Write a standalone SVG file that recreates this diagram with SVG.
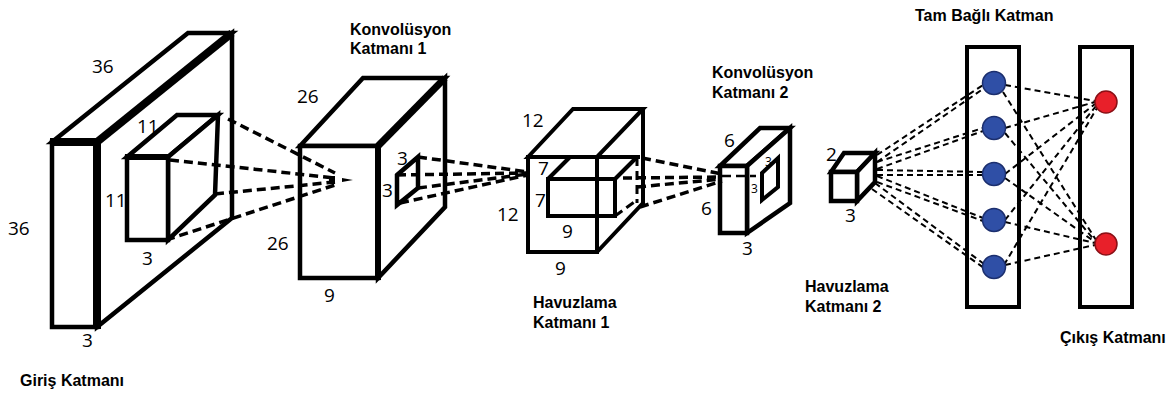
<svg xmlns="http://www.w3.org/2000/svg" width="1175" height="394" viewBox="0 0 1175 394">
<style>
.box{fill:#fff;stroke:#000;stroke-width:4.5;stroke-linejoin:miter}
.ln{fill:none;stroke:#000;stroke-width:4.5}
.thick{fill:none;stroke:#000;stroke-width:8}
.dash{fill:none;stroke:#000;stroke-width:3.5;stroke-dasharray:9 5}
.fdash{fill:none;stroke:#000;stroke-width:2;stroke-dasharray:6 4}
.num{font-family:"Open Sans","DejaVu Sans",sans-serif;font-size:19px;fill:#000}
.sm{font-family:"Open Sans","DejaVu Sans",sans-serif;font-size:12px;fill:#000}
.ttl{font-family:"Liberation Sans",Arial,sans-serif;font-size:16px;font-weight:bold;fill:#000}
.blue{fill:#2f4fa6;stroke:#1c2f6e;stroke-width:1.5}
.red{fill:#e8202a;stroke:#8a1016;stroke-width:1.5}
.frame{fill:none;stroke:#000;stroke-width:4}
</style>
<rect width="1175" height="394" fill="#fff"/>

<g id="input">
  <polygon class="box" points="52,142 188,33 232,33 97,142"/>
  <polygon class="box" points="97,142 232,33 232,218 97,327"/>
  <rect class="box" x="52" y="142" width="45" height="185"/>
  <line class="thick" x1="97" y1="142" x2="232" y2="33"/>
  <line class="thick" x1="97" y1="140" x2="97" y2="329"/>
  <line class="thick" x1="50" y1="142" x2="97" y2="142"/>
  <g id="input-kernel">
    <polygon class="box" points="127,157 177,115 218,115 168,157"/>
    <polygon class="box" points="168,157 218,115 215,195 168,240"/>
    <rect class="box" x="127" y="157" width="41" height="83"/>
    <line class="ln" x1="125" y1="157" x2="170" y2="157" style="stroke-width:6"/>
  </g>
  <text class="num" x="92" y="73">36</text>
  <text class="num" x="137" y="133">11</text>
  <text class="num" x="105" y="207">11</text>
  <text class="num" x="8" y="235">36</text>
  <text class="num" x="142" y="265">3</text>
  <text class="num" x="82" y="347">3</text>
  <text class="ttl" x="20" y="386">Giriş Katmanı</text>
</g>

<g id="conv1">
  <polygon class="box" points="300,146 363,78 445,78 378,146"/>
  <polygon class="box" points="378,146 445,78 445,207 378,278"/>
  <rect class="box" x="300" y="146" width="78" height="132"/>
  <line class="thick" x1="378" y1="146" x2="445" y2="78" style="stroke-width:7"/>
  <line class="ln" x1="378" y1="144" x2="378" y2="280" style="stroke-width:6"/>
  <polygon class="box" points="397,175 418,157 418,188 397,205"/>
  <text class="num" x="397" y="165">3</text>
  <text class="num" x="382" y="197">3</text>
  <text class="num" x="297" y="103">26</text>
  <text class="num" x="267" y="250">26</text>
  <text class="num" x="324" y="302">9</text>
  <text class="ttl" x="350" y="35">Konvolüsyon</text>
  <text class="ttl" x="350" y="54">Katmanı 1</text>
</g>

<g id="pool1">
  <polygon class="ln" points="528,157 573,109 643,109 597,157" style="stroke-width:4"/>
  <polyline class="ln" points="643,109 643,203 597,252" style="stroke-width:4"/>
  <rect class="ln" x="528" y="157" width="69" height="95" style="stroke-width:4"/>
  <line class="ln" x1="597" y1="157" x2="640" y2="157" style="stroke-width:4"/>
  <line class="ln" x1="548" y1="179" x2="570" y2="157" style="stroke-width:4"/>
  <line class="ln" x1="615" y1="179" x2="637" y2="157" style="stroke-width:4"/>
  <rect class="ln" x="548" y="179" width="67" height="37" style="stroke-width:4"/>
  <line class="dash" x1="637" y1="157" x2="637" y2="203" style="stroke-width:3"/>
  <line class="dash" x1="615" y1="216" x2="637" y2="200" style="stroke-width:3"/>
  <text class="num" x="522" y="127">12</text>
  <text class="num" x="538" y="175">7</text>
  <text class="num" x="535" y="207">7</text>
  <text class="num" x="497" y="221">12</text>
  <text class="num" x="562" y="238">9</text>
  <text class="num" x="555" y="275">9</text>
  <text class="ttl" x="533" y="308">Havuzlama</text>
  <text class="ttl" x="533" y="328">Katmanı 1</text>
</g>

<g id="conv2">
  <polygon class="box" points="720,166 760,128 790,128 747,166"/>
  <polygon class="box" points="747,166 790,128 790,203 747,233"/>
  <rect class="box" x="720" y="166" width="27" height="67"/>
  <polygon class="box" points="762,173 778,158 778,187 762,200" style="stroke-width:4"/>
  <text class="sm" x="765" y="166">3</text>
  <text class="sm" x="751" y="193">3</text>
  <text class="num" x="724" y="147">6</text>
  <text class="num" x="701" y="215">6</text>
  <text class="num" x="742" y="255">3</text>
  <text class="ttl" x="712" y="78">Konvolüsyon</text>
  <text class="ttl" x="712" y="98">Katmanı 2</text>
</g>

<g id="pool2">
  <polygon class="box" points="831,172 844,153 875,153 857,172"/>
  <polygon class="box" points="857,172 875,153 875,182 857,201"/>
  <rect class="box" x="831" y="172" width="26" height="29"/>
  <text class="num" x="826" y="161">2</text>
  <text class="num" x="845" y="222">3</text>
  <text class="ttl" x="805" y="292">Havuzlama</text>
  <text class="ttl" x="805" y="312">Katmanı 2</text>
</g>

<g id="connectors">
  <line class="dash" x1="228" y1="119" x2="335" y2="173"/>
  <line class="dash" x1="170" y1="160" x2="335" y2="178"/>
  <line class="dash" x1="215" y1="194" x2="335" y2="182"/>
  <line class="dash" x1="166" y1="240" x2="335" y2="185"/>
  <rect x="329" y="176" width="6" height="8" fill="#000"/>
  <polygon points="342,178 353,180 342,182" fill="#000"/>
  <line class="dash" x1="418" y1="157" x2="528" y2="172"/>
  <line class="dash" x1="397" y1="175" x2="528" y2="173"/>
  <line class="dash" x1="418" y1="188" x2="528" y2="174"/>
  <line class="dash" x1="400" y1="203" x2="528" y2="175"/>
  <line class="dash" x1="642" y1="158" x2="722" y2="174"/>
  <line class="dash" x1="623" y1="178" x2="722" y2="177"/>
  <line class="dash" x1="637" y1="187" x2="722" y2="179"/>
  <line class="dash" x1="640" y1="207" x2="722" y2="181"/>
  <line class="dash" x1="722" y1="176" x2="756" y2="176" style="stroke-width:2.5"/>
  <line class="fdash" x1="877" y1="155" x2="983" y2="85"/>
  <line class="fdash" x1="877" y1="162" x2="983" y2="89"/>
  <line class="fdash" x1="877" y1="162" x2="983" y2="128"/>
  <line class="fdash" x1="877" y1="169" x2="983" y2="131"/>
  <line class="fdash" x1="877" y1="170" x2="983" y2="172"/>
  <line class="fdash" x1="877" y1="175" x2="983" y2="175"/>
  <line class="fdash" x1="877" y1="176" x2="983" y2="218"/>
  <line class="fdash" x1="877" y1="182" x2="983" y2="221"/>
  <line class="fdash" x1="875" y1="183" x2="984" y2="264"/>
  <line class="fdash" x1="872" y1="189" x2="984" y2="268"/>
  <line class="fdash" x1="1005" y1="85" x2="1095" y2="101"/>
  <line class="fdash" x1="1005" y1="128" x2="1095" y2="102"/>
  <line class="fdash" x1="1005" y1="174" x2="1095" y2="104"/>
  <line class="fdash" x1="1005" y1="220" x2="1096" y2="106"/>
  <line class="fdash" x1="1004" y1="265" x2="1097" y2="108"/>
  <line class="fdash" x1="1003" y1="92" x2="1096" y2="240"/>
  <line class="fdash" x1="1005" y1="133" x2="1095" y2="241"/>
  <line class="fdash" x1="1005" y1="178" x2="1095" y2="242"/>
  <line class="fdash" x1="1005" y1="222" x2="1095" y2="243"/>
  <line class="fdash" x1="1005" y1="265" x2="1095" y2="245"/>
</g>

<g id="fc">
  <rect class="frame" x="967" y="47" width="52" height="260"/>
  <circle class="blue" cx="994" cy="83" r="11.5"/>
  <circle class="blue" cx="994" cy="128" r="11.5"/>
  <circle class="blue" cx="994" cy="174" r="11.5"/>
  <circle class="blue" cx="994" cy="220" r="11.5"/>
  <circle class="blue" cx="994" cy="267" r="11.5"/>
  <text class="ttl" x="915" y="21">Tam Bağlı Katman</text>
</g>

<g id="output">
  <rect class="frame" x="1080" y="47" width="52" height="260"/>
  <circle class="red" cx="1106" cy="102" r="11"/>
  <circle class="red" cx="1106" cy="244" r="11"/>
  <text class="ttl" x="1060" y="343">Çıkış Katmanı</text>
</g>
</svg>
